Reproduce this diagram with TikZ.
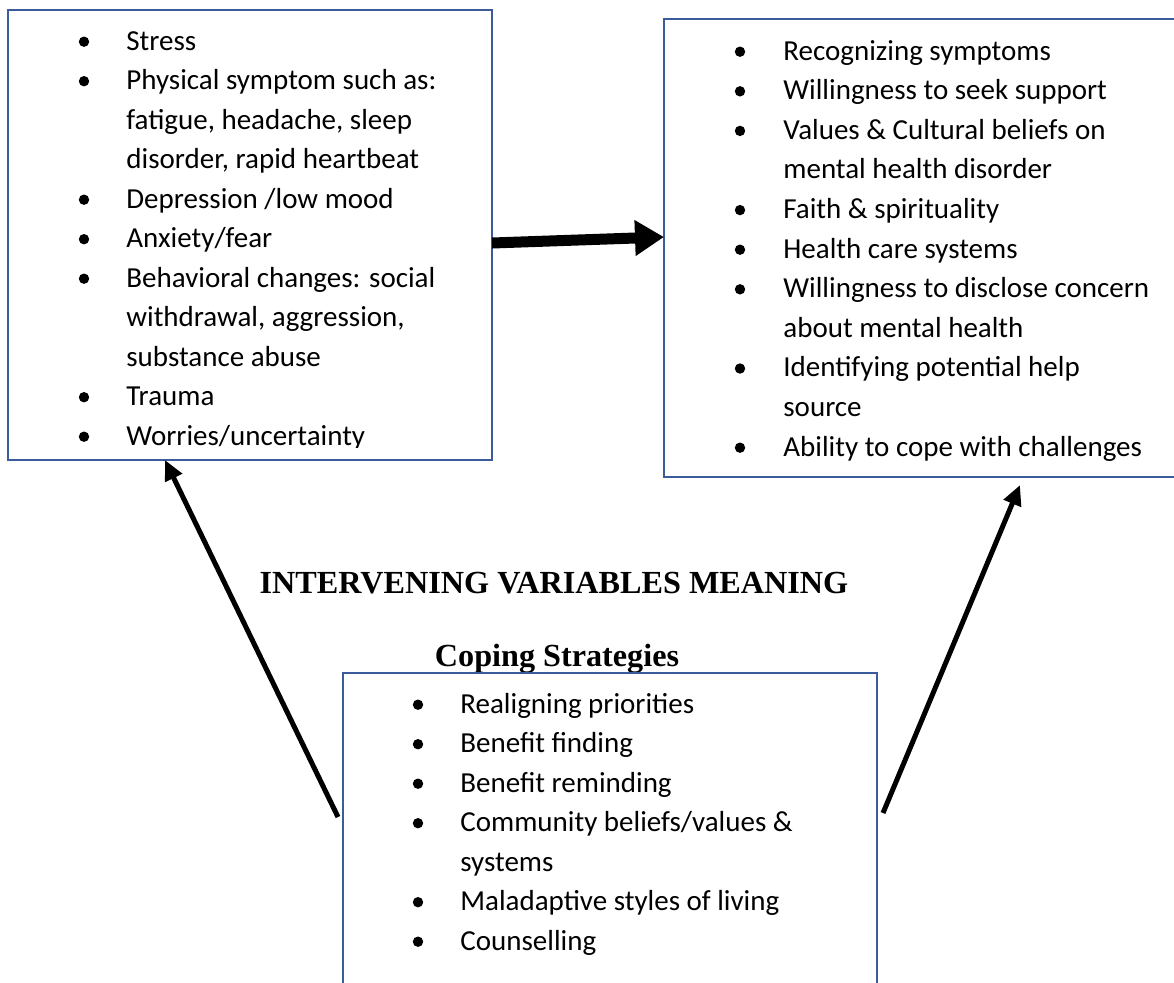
\documentclass[tikz,border=0pt]{standalone}
\usepackage{fontspec}
\setmainfont{Carlito}
\newfontfamily\titlefont{Liberation Serif}
\usetikzlibrary{arrows.meta}
\definecolor{boxblue}{RGB}{59,91,155}
\tikzset{
 box/.style={draw=boxblue, line width=1pt, fill=white, rectangle, inner sep=0pt, outer sep=0pt},
 itemtext/.style={anchor=base west, inner sep=0pt, font=\fontsize{14.5pt}{17pt}\selectfont},
 bul/.style={fill=black},
 titletext/.style={anchor=base, inner sep=0pt, font=\titlefont\bfseries\fontsize{16.1pt}{18pt}\selectfont},
 bigarrow/.style={line width=5.5pt, -{Triangle[length=14.5pt,width=17pt]}},
 thinarrow/.style={line width=2.5pt, -{Triangle[length=10pt,width=9pt]}},
}
\begin{document}
\begin{tikzpicture}[x=0.5pt,y=-0.5pt]
\clip (0,0) rectangle (1174,982);
\fill[white] (0,0) rectangle (1174,982);

% titles
\node[titletext] (T1) at (554,593) {INTERVENING VARIABLES MEANING};
\node[titletext] (T2) at (557,666) {Coping Strategies};

% boxes
\node[box, minimum width=242pt, minimum height=225pt] (L) at (250,235) {};
\node[box, minimum width=256pt, minimum height=229pt] (R) at (920,248) {};
\node[box, minimum width=267pt, minimum height=163.5pt] (B) at (610,836.5) {};

% arrows
\draw[bigarrow] ([yshift=-4pt]L.east) -- ([yshift=5.5pt]R.west);
\draw[thinarrow] ([xshift=-2.5pt,yshift=9.75pt]B.west) -- ([xshift=-42.5pt]L.south);
\draw[thinarrow] ([xshift=3pt,yshift=11.75pt]B.east) -- ([xshift=50pt,yshift=-4pt]R.south);

% left box text
\begin{scope}
\clip (8,10) rectangle (492,447);
\foreach \y/\t [count=\i] in {50/{Stress}, 89.5/{Physical symptom such as:}, 129/{fatigue, headache, sleep}, 168.5/{disorder, rapid heartbeat}, 208/{Depression /low mood}, 247.5/{Anxiety/fear}, 287/{Behavioral changes: social}, 326.5/{withdrawal, aggression,}, 366/{substance abuse}, 405.5/{Trauma}, 445/{Worries/uncertainty}}
  \node[itemtext] (Lt\i) at (126,\y) {\t};
\foreach \y in {50, 89.5, 208, 247.5, 287, 405.5, 445}
  \fill[bul] (84,\y-8.3) circle[radius=2.6pt];
\end{scope}

% right box text
\foreach \y/\t [count=\i] in {60/{Recognizing symptoms}, 99.6/{Willingness to seek support}, 139.2/{Values \& Cultural beliefs on}, 178.8/{mental health disorder}, 218.4/{Faith \& spirituality}, 258/{Health care systems}, 297.6/{Willingness to disclose concern}, 337.2/{about mental health}, 376.8/{Identifying potential help}, 416.4/{source}, 456/{Ability to cope with challenges}}
  \node[itemtext] (Rt\i) at (783,\y) {\t};
\foreach \y in {60, 99.6, 139.2, 218.4, 258, 297.6, 376.8, 456}
  \fill[bul] (740,\y-8.3) circle[radius=2.6pt];

% bottom box text
\foreach \y/\t [count=\i] in {713/{Realigning priorities}, 752.5/{Benefit finding}, 792/{Benefit reminding}, 831.5/{Community beliefs/values \&}, 871/{systems}, 910.5/{Maladaptive styles of living}, 950/{Counselling}}
  \node[itemtext] (Bt\i) at (460,\y) {\t};
\foreach \y in {713, 752.5, 792, 831.5, 910.5, 950}
  \fill[bul] (418,\y-8.3) circle[radius=2.6pt];
\end{tikzpicture}
\end{document}
